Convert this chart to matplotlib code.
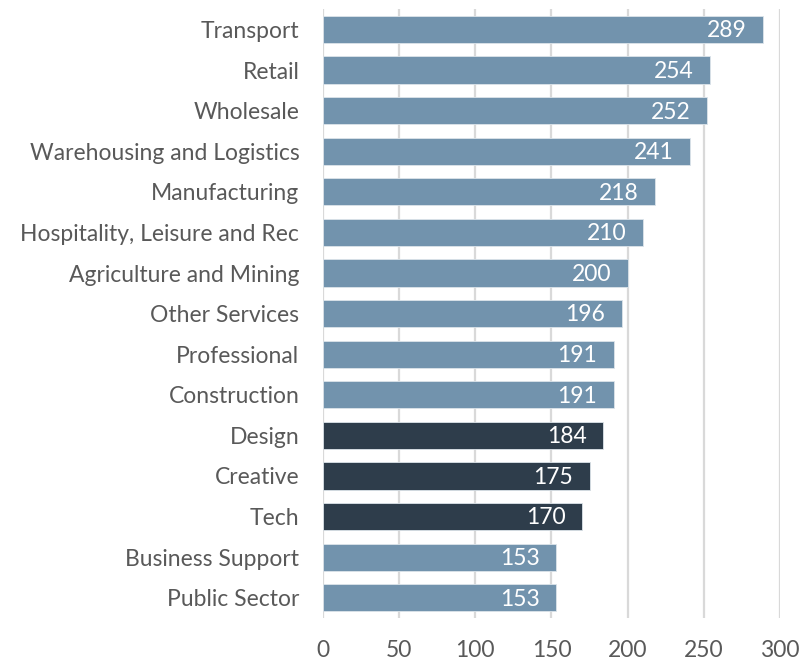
import matplotlib.pyplot as plt

categories = ['Transport', 'Retail', 'Wholesale', 'Warehousing and Logistics',
              'Manufacturing', 'Hospitality, Leisure and Rec', 'Agriculture and Mining',
              'Other Services', 'Professional', 'Construction', 'Design', 'Creative',
              'Tech', 'Business Support', 'Public Sector']
values = [289, 254, 252, 241, 218, 210, 200, 196, 191, 191, 184, 175, 170, 153, 153]
highlight = ['Design', 'Creative', 'Tech']

light = '#7293AD'
dark = '#2E3D4B'

plt.rcParams['font.family'] = ['Lato', 'DejaVu Sans']

fig = plt.figure(figsize=(8.01, 6.63), dpi=100)
ax = fig.add_axes([0.4032, 0.0679, 0.5706, 0.9182])

pos = list(range(len(categories)))
colors = [dark if c in highlight else light for c in categories]
bars = ax.barh(pos, values, height=0.67, color=colors, edgecolor='#DCE4EA', linewidth=0.6, zorder=3)

for b, v in zip(bars, values):
    ax.annotate(str(v), (b.get_width(), b.get_y() + b.get_height() / 2),
                xytext=(-12, -1), textcoords='offset points',
                ha='right', va='center', color='white', fontsize=16.5, zorder=4)

ax.set_yticks(pos)
ax.set_yticklabels(categories)
ax.set_ylim(len(categories) - 0.5, -0.5)
ax.set_xlim(0, 300)
ax.set_xticks(range(0, 301, 50))

ax.grid(axis='x', color='#D9D9D9', linewidth=1.6, zorder=0)
for s in ax.spines.values():
    s.set_visible(False)
ax.tick_params(axis='both', length=0, labelsize=16.5, labelcolor='#595959')
ax.tick_params(axis='x', pad=16)
ax.tick_params(axis='y', pad=17)

fig.savefig('out.png', dpi=100)
